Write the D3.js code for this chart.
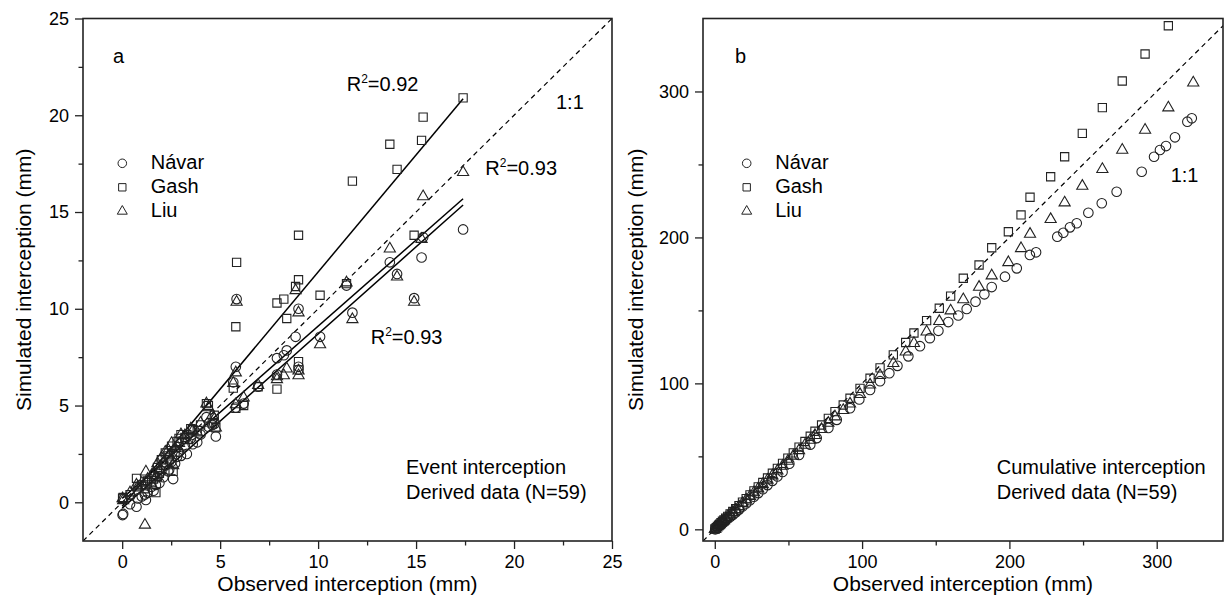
<!DOCTYPE html>
<html>
<head>
<meta charset="utf-8">
<script src="https://cdn.jsdelivr.net/npm/d3@7"></script>
<style>
  body { margin: 0; background: #fff; }
  text { font-family: "Liberation Sans", Arial, sans-serif; fill: #000; }
</style>
</head>
<body>
<div id="chart"></div>
<script>
// ---- panel a: event interception (observed vs simulated, mm) ----
const eventObs   = [17.4, 15.36, 15.28, 14.9, 14.03, 13.66, 11.75, 11.45, 10.1, 9.0, 9.0, 8.85, 9.0, 8.4, 8.25, 7.9, 7.9, 6.94, 5.84, 5.8,
                    5.67, 5.8, 4.3, 4.78, 4.7, 3.83, 3.3, 3.2, 2.9, 2.52, 2.8, 2.6, 2.4, 2.0, 2.1, 1.9, 2.2, 1.72, 1.6, 1.5,
                    1.21, 1.16, 1.3, 0.73, 0.8, 0.02, 0.05, 3.6, 3.0, 3.5, 4.0, 4.4, 2.7, 1.8, 1.0, 6.2, 4.6, 2.35, 0.4];
const eventNavar = [14.1, 13.7, 12.65, 10.55, 11.8, 12.4, 9.8, 11.2, 8.55, 10.0, 6.85, 8.55, 7.0, 7.85, 7.6, 7.45, 6.6, 5.97, 10.5, 7.0,
                    6.2, 4.9, 4.4, 3.4, 4.05, 3.1, 2.5, 2.9, 2.6, 2.1, 2.35, 1.2, 1.7, 1.6, 1.3, 1.0, 1.9, 0.9, 0.6, 0.8,
                    0.12, 0.4, 0.5, -0.23, 0.2, -0.66, -0.6, 3.0, 2.4, 3.3, 3.5, 3.9, 2.0, 1.3, 0.3, 5.1, 4.0, 1.6, -0.1];
const eventGash  = [20.9, 19.9, 18.7, 13.8, 17.2, 18.5, 16.6, 11.3, 10.7, 13.8, 11.5, 11.15, 7.27, 9.5, 10.5, 10.3, 5.85, 5.97, 12.4, 9.07,
                    5.9, 4.85, 5.1, 3.85, 4.5, 3.7, 3.5, 3.35, 3.3, 2.9, 3.15, 1.6, 2.2, 2.2, 1.9, 1.5, 2.55, 0.5, 1.2, 1.0,
                    0.9, 0.7, 1.1, 1.24, 0.8, 0.21, 0.25, 3.75, 3.5, 3.8, 4.0, 5.0, 2.6, 1.8, 0.9, 5.0, 4.1, 2.4, 0.4];
const eventLiu   = [17.05, 15.8, 13.6, 10.35, 11.65, 13.1, 9.45, 11.35, 8.15, 9.8, 6.55, 10.95, 6.8, 6.9, 6.55, 6.35, 6.5, 6.05, 10.35, 6.7,
                    6.15, 5.05, 5.1, 3.85, 4.3, 3.6, 3.2, 3.45, 3.05, 3.05, 2.9, 1.9, 2.45, 2.3, 2.0, 1.65, 2.6, 1.3, 1.5, 1.4,
                    1.58, -1.17, 1.2, 0.9, 0.8, 0.2, 0.1, 3.7, 3.5, 3.8, 4.1, 4.9, 2.8, 2.0, 1.0, 5.4, 4.5, 2.7, 0.5];

// fitted regression lines of panel a
const fitNames     = ["Gash", "Liu", "Návar"];
const fitIntercept = [-0.2, 0.2, -0.3];
const fitSlope     = [1.21, 0.89, 0.90];
const fitRange     = [0, 17.4];

// ---- panel b: cumulative interception (mm) ----
const cumObs  = [0.3, 1.0, 1.8, 2.6, 3.3, 4.2, 5.2, 6.2, 7.4, 8.8, 10.4, 12.2, 14.2, 16.4, 18.8, 21.3, 23.9, 26.6, 29.5, 32.6,
                 35.8, 39.1, 42.5, 46.0, 49.6, 53.3, 57.2, 61.2, 64.8, 68.0, 72.5, 77.1, 81.6, 87.2, 91.8, 98.6, 105.4, 112.2, 121.2, 129.6,
                 135.2, 143.8, 152.4, 160.1, 168.7, 179.4, 188, 199.3, 207.9, 214, 228, 237.5, 249.5, 263.1, 276.6, 292.1, 307.9, 324.8, 0.1];
const cumGash = [0.3, 1.2, 2.0, 2.9, 3.6, 4.5, 5.5, 6.4, 7.6, 8.9, 10.5, 12.2, 14.1, 16.2, 18.6, 21.0, 23.6, 26.3, 29.1, 32.1,
                 35.2, 38.4, 41.8, 45.2, 48.8, 52.4, 56.3, 60.2, 63.8, 67.2, 71.5, 76.0, 80.6, 85.2, 89.8, 96.6, 103.5, 110.6, 119.5, 128.0,
                 134.5, 143.0, 151.5, 159.8, 172.0, 181.1, 192.9, 203.9, 215.4, 227.5, 241.6, 255.3, 271.3, 288.9, 307.2, 325.7, 345.0, 364.0, 0.1];
const cumLiu  = [0.3, 1.1, 1.9, 2.7, 3.4, 4.3, 5.2, 6.1, 7.3, 8.6, 10.1, 11.8, 13.6, 15.6, 17.9, 20.2, 22.7, 25.2, 27.9, 30.8,
                 33.8, 36.8, 40.1, 43.4, 46.8, 50.3, 54.1, 57.8, 61.2, 64.4, 68.6, 72.8, 77.2, 81.6, 86.0, 92.5, 99.0, 105.5, 113.8, 121.7,
                 127.5, 135.4, 142.5, 149.8, 157.5, 166.0, 173.8, 182.9, 192.5, 202.3, 212.4, 223.8, 235.2, 246.7, 259.9, 273.6, 288.9, 306.0, 0.1];
const cumObsNavar = [0.3, 1.8, 3.3, 5.2, 7.4, 10.4, 12.2, 14.2, 16.4, 18.8, 21.3, 23.9, 26.6, 29.5, 32.6, 35.8, 39.1, 42.5, 46.0, 50.6,
                     57.2, 64.8, 69.2, 77.1, 82.8, 91.8, 98.1, 105.4, 112.2, 118.5, 124, 131.4, 139.3, 146, 151.8, 158.5, 165.3, 171, 177, 183,
                     188, 197, 205, 213.9, 218.1, 232.5, 236.6, 241.1, 245.7, 253.6, 262.7, 272.8, 289.8, 298.2, 302.2, 306.3, 312.4, 320.8, 323.8];
const cumNavar    = [0.0, 1.2, 2.5, 4.0, 5.9, 8.4, 9.9, 11.6, 13.5, 15.6, 17.7, 19.9, 22.3, 24.8, 27.5, 30.3, 33.2, 36.2, 39.3, 45.0,
                     51.0, 58.0, 62.5, 69.5, 75.0, 83.0, 89.0, 95.5, 101.5, 107.0, 112.0, 118.5, 125.5, 131.0, 136.0, 142.0, 146.5, 151.0, 156.0, 161.0,
                     166.0, 173.1, 178.8, 188.0, 189.8, 200.5, 203.2, 206.9, 209.7, 216.9, 223.4, 231.3, 245.0, 255.3, 259.9, 262.6, 268.6, 279.3, 281.6];

const legendNames = ["Návar", "Gash", "Liu"];
const xTicksA = [0, 5, 10, 15, 20, 25];
const xTicksB = [0, 100, 200, 300];

const W = 1225, H = 602;
const svg = d3.select("#chart").append("svg").attr("width", W).attr("height", H);

const shapes = { "Návar": d3.symbolCircle, "Gash": d3.symbolSquare, "Liu": d3.symbolTriangle };
const sizes  = { "Návar": 72, "Gash": 68, "Liu": 54 };
const ink = "#222";

function drawPanel(p) {
    const x = d3.scaleLinear().domain(p.xDom).range([p.l, p.r]);
    const y = d3.scaleLinear().domain(p.yDom).range([p.b, p.t]);
    const g = svg.append("g");

    svg.append("clipPath").attr("id", "clip-" + p.id)
       .append("rect")
       .attr("x", p.l).attr("y", p.t)
       .attr("width", p.r - p.l).attr("height", p.b - p.t);

    // axes: major ticks with labels, minor ticks without
    const styleAxis = a => {
        a.select(".domain").remove();
        a.selectAll("line").attr("stroke", ink).attr("stroke-width", 1.3);
        a.selectAll("text").attr("font-size", 18).attr("font-family", "Liberation Sans, Arial, sans-serif").attr("fill", "#000");
    };
    g.append("g").attr("transform", `translate(0,${p.b})`)
     .call(d3.axisBottom(x).tickValues(p.xMajor).tickSize(8).tickPadding(6).tickFormat(d3.format("d")))
     .call(styleAxis);
    g.append("g").attr("transform", `translate(0,${p.b})`)
     .call(d3.axisBottom(x).tickValues(p.xMinor).tickSize(4.5).tickFormat(""))
     .call(styleAxis);
    g.append("g").attr("transform", `translate(${p.l},0)`)
     .call(d3.axisLeft(y).tickValues(p.yMajor).tickSize(8).tickPadding(6).tickFormat(d3.format("d")))
     .call(styleAxis);
    g.append("g").attr("transform", `translate(${p.l},0)`)
     .call(d3.axisLeft(y).tickValues(p.yMinor).tickSize(4.5).tickFormat(""))
     .call(styleAxis);

    const plot = g.append("g").attr("clip-path", `url(#clip-${p.id})`);

    // 1:1 line
    plot.append("line")
        .attr("x1", x(p.xDom[0])).attr("y1", y(p.xDom[0]))
        .attr("x2", x(p.yDom[1])).attr("y2", y(p.yDom[1]))
        .attr("stroke", "#000").attr("stroke-width", 1.2).attr("stroke-dasharray", "5,4");

    // fitted lines
    (p.fits || []).forEach(f => {
        plot.append("path")
            .datum(fitRange)
            .attr("d", d3.line().x(v => x(v)).y(v => y(f.a + f.b * v)))
            .attr("fill", "none").attr("stroke", "#000").attr("stroke-width", 1.5);
    });

    // points
    p.series.forEach(s => {
        const sym = d3.symbol().type(shapes[s.name]).size(sizes[s.name]);
        plot.selectAll(null)
            .data(d3.zip(s.x, s.y))
            .join("path")
            .attr("d", sym)
            .attr("transform", d => `translate(${x(d[0])},${y(d[1])})`)
            .attr("fill", "none").attr("stroke", ink).attr("stroke-width", 1.1);
    });

    // frame
    g.append("rect")
     .attr("x", p.l).attr("y", p.t)
     .attr("width", p.r - p.l).attr("height", p.b - p.t)
     .attr("fill", "none").attr("stroke", ink).attr("stroke-width", 1.6);

    // legend
    legendNames.forEach((n, i) => {
        const yy = p.legendY + i * 24;
        g.append("path")
         .attr("d", d3.symbol().type(shapes[n]).size(sizes[n] * 0.8))
         .attr("transform", `translate(${p.legendSymX},${yy - 6})`)
         .attr("fill", "none").attr("stroke", ink).attr("stroke-width", 1);
        g.append("text").attr("x", p.legendSymX + 28.5).attr("y", yy)
         .attr("font-size", 20).text(n);
    });

    // panel letter
    g.append("text").attr("x", p.letterX).attr("y", 63).attr("font-size", 20).text(p.letter);

    // annotations
    (p.notes || []).forEach(n => {
        const t = g.append("text").attr("x", n.x).attr("y", n.y).attr("font-size", 20);
        if (n.r2) {
            t.append("tspan").text("R");
            t.append("tspan").attr("font-size", 12).attr("dy", -8).text("2");
            t.append("tspan").attr("dy", 8).text("=" + n.r2);
        } else {
            t.text(n.text);
        }
    });

    // axis titles
    g.append("text")
     .attr("x", (p.l + p.r) / 2).attr("y", 591)
     .attr("text-anchor", "middle").attr("font-size", 21)
     .text("Observed interception (mm)");
    g.append("text")
     .attr("transform", `translate(${p.yTitleX},${(p.t + p.b) / 2}) rotate(-90)`)
     .attr("text-anchor", "middle").attr("font-size", 21)
     .text("Simulated interception (mm)");
}

drawPanel({
    id: "a", letter: "a", letterX: 113,
    l: 83, r: 612, t: 18.5, b: 541,
    xDom: [-2, 25], yDom: [-2, 25],
    xMajor: xTicksA, xMinor: [2.5, 7.5, 12.5, 17.5, 22.5],
    yMajor: xTicksA, yMinor: [2.5, 7.5, 12.5, 17.5, 22.5],
    series: [
        { name: "Návar", x: eventObs, y: eventNavar },
        { name: "Gash",  x: eventObs, y: eventGash },
        { name: "Liu",   x: eventObs, y: eventLiu }
    ],
    fits: fitNames.map((n, i) => ({ name: n, a: fitIntercept[i], b: fitSlope[i] })),
    legendSymX: 122.3, legendY: 169.3,
    yTitleX: 31,
    notes: [
        { x: 346.7, y: 90.7, r2: "0.92" },
        { x: 556, y: 109, text: "1:1" },
        { x: 485.3, y: 175, r2: "0.93" },
        { x: 370.7, y: 344, r2: "0.93" },
        { x: 406, y: 474, text: "Event interception" },
        { x: 406, y: 499.3, text: "Derived data (N=59)" }
    ]
});

drawPanel({
    id: "b", letter: "b", letterX: 735,
    l: 703, r: 1223, t: 18.5, b: 541,
    xDom: [-8, 345], yDom: [-8, 350],
    xMajor: xTicksB, xMinor: [50, 150, 250],
    yMajor: xTicksB, yMinor: [50, 150, 250],
    series: [
        { name: "Návar", x: cumObsNavar, y: cumNavar },
        { name: "Gash",  x: cumObs, y: cumGash },
        { name: "Liu",   x: cumObs, y: cumLiu }
    ],
    legendSymX: 746.7, legendY: 169.3,
    yTitleX: 643,
    notes: [
        { x: 1170.7, y: 181.7, text: "1:1" },
        { x: 996.7, y: 474, text: "Cumulative interception" },
        { x: 996.7, y: 499.3, text: "Derived data (N=59)" }
    ]
});
</script>
</body>
</html>
